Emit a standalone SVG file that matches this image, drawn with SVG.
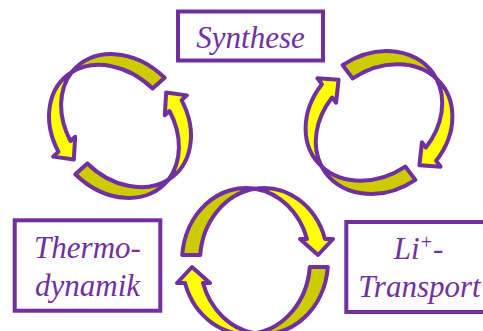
<svg xmlns="http://www.w3.org/2000/svg" xmlns:xlink="http://www.w3.org/1999/xlink" width="483" height="331" viewBox="0 0 483 331">
  <style>
    .box { fill: #ffffff; stroke: #7030A0; stroke-width: 4; }
    .label { font-family: "Liberation Serif", "Times New Roman", serif; font-style: italic; font-size: 31px; fill: #7030A0; text-anchor: middle; }
    .back { fill: #CCCC00; stroke: #7030A0; stroke-width: 4; stroke-linejoin: round; vector-effect: non-scaling-stroke; }
    .front { fill: #FFFF00; stroke: #7030A0; stroke-width: 4; stroke-linejoin: round; vector-effect: non-scaling-stroke; }
  </style>
  <defs>
    <!-- curved arrow built from two offset ellipses; back face (tail) and front face (head) -->
    <path id="arrow-back" class="back" d="M -72.78 -6 A 64 73 0 0 1 0 -72.27 A 64 73 0 0 0 -54.78 -6 Z"/>
    <path id="arrow-front" class="front" d="M 0 -72.27 A 64 73 0 0 1 70.02 -22 L 78 -22 L 63 -6 L 45 -22 L 52.02 -22 A 64 73 0 0 0 0 -72.27 Z"/>
    <g id="curved-arrow">
      <use xlink:href="#arrow-back"/>
      <use xlink:href="#arrow-front"/>
    </g>
  </defs>

  <g id="connectors">
    <!-- cycle beside Synthese, left (counter-clockwise) -->
    <g id="cycle-left">
      <use xlink:href="#curved-arrow" transform="translate(120 126) rotate(-42) scale(-0.9 1)"/>
      <use xlink:href="#curved-arrow" transform="translate(120 126) rotate(138) scale(-0.9 1)"/>
    </g>
    <!-- cycle beside Synthese, right (clockwise) -->
    <g id="cycle-right">
      <use xlink:href="#curved-arrow" transform="translate(379 122.5) rotate(52.5) scale(0.93 1)"/>
      <use xlink:href="#curved-arrow" transform="translate(379 122.5) rotate(232.5) scale(0.93 1)"/>
    </g>
    <!-- cycle between Thermodynamik and Li-Transport -->
    <g id="cycle-bottom">
      <use xlink:href="#curved-arrow" transform="translate(255 261)"/>
      <use xlink:href="#curved-arrow" transform="translate(255 261) rotate(180)"/>
    </g>
  </g>

  <g id="node-synthese">
    <rect class="box" x="178" y="11.5" width="145" height="49"/>
    <text class="label" x="250.5" y="48">Synthese</text>
  </g>

  <g id="node-thermodynamik">
    <rect class="box" x="14.7" y="220.3" width="145.6" height="90.4"/>
    <text class="label" x="87.5" y="258">Thermo-</text>
    <text class="label" x="87.5" y="296">dynamik</text>
  </g>

  <g id="node-li-transport">
    <rect class="box" x="346.3" y="222" width="146" height="90"/>
    <text class="label" x="418.5" y="259">Li<tspan dy="-10" font-size="20">+</tspan><tspan dy="10">-</tspan></text>
    <text class="label" x="419.5" y="297">Transport</text>
  </g>
</svg>
